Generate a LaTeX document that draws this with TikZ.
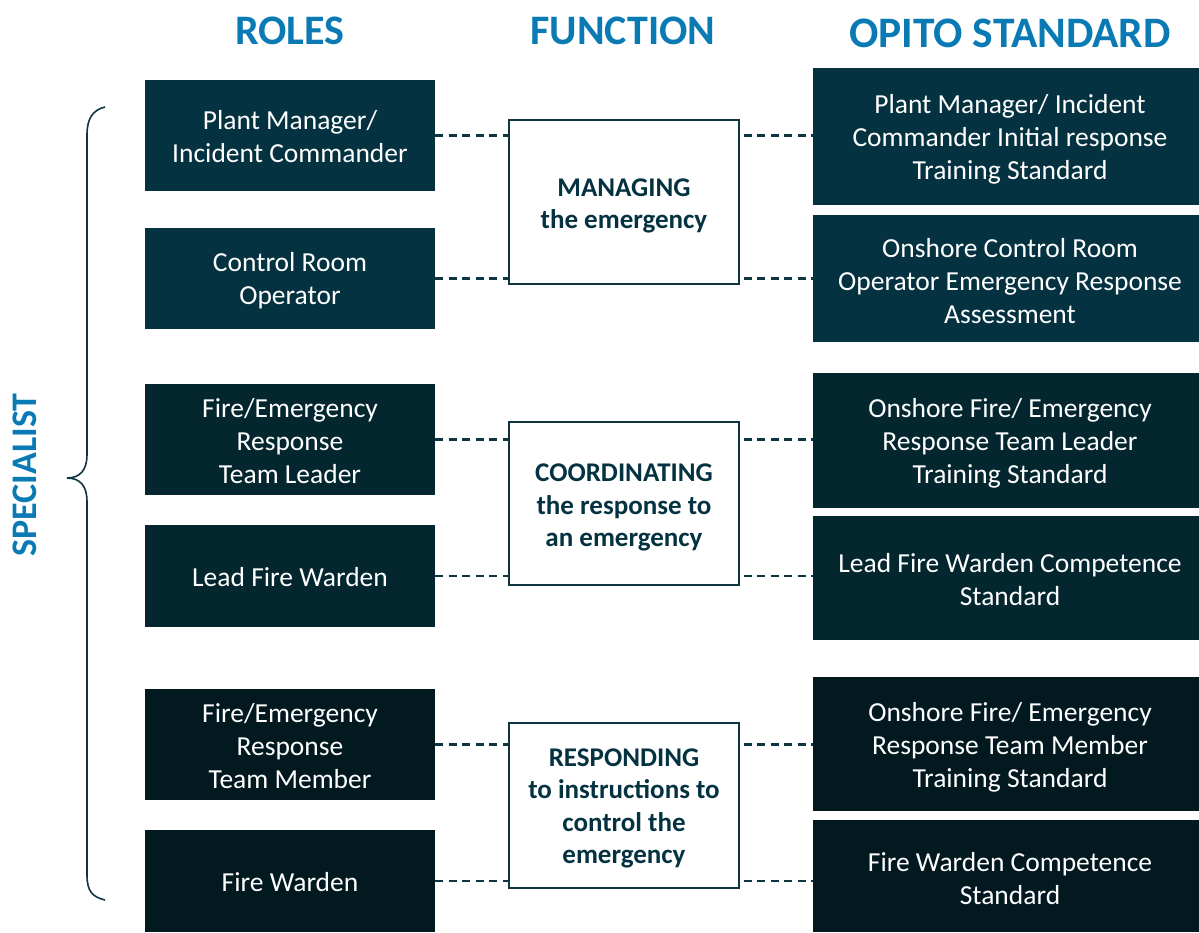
\documentclass[tikz,border=0pt]{standalone}
\usepackage{fontspec}
\setmainfont{Carlito}
\definecolor{topc}{HTML}{043241}
\definecolor{midc}{HTML}{03262F}
\definecolor{botc}{HTML}{02191F}
\definecolor{headc}{HTML}{0A7AB5}
\definecolor{linec}{HTML}{0E3540}
\begin{document}
\begin{tikzpicture}[x=1pt,y=-1pt,
  rolebox/.style={fill=#1, draw=none, inner sep=0pt, minimum width=290pt},
  stdbox/.style={fill=#1, draw=none, inner sep=0pt, minimum width=386pt},
  boxtext/.style={text=white, inner sep=0pt, align=center, font=\fontsize{27.5}{33}\selectfont},
  funcbox/.style={fill=white, draw=linec, line width=1.2pt, inner sep=0pt, minimum width=230pt},
  functext/.style={text=topc, inner sep=0pt, align=center, font=\bfseries\fontsize{27}{32.5}\selectfont},
  head/.style={text=headc, font=\bfseries\fontsize{42}{46}\selectfont, inner sep=0pt},
  link/.style={draw=linec, line width=2.2pt, dash pattern=on 8pt off 5.5pt}
]
\useasboundingbox (0,0) rectangle (1199,932);

\node[head] (h1) at (290,31) {ROLES};
\node[head] (h2) at (623,31) {FUNCTION};
\node[head, font=\bfseries\fontsize{43.5}{46}\selectfont] (h3) at (1010,33) {OPITO STANDARD};

\node[head, font=\bfseries\fontsize{36}{40}\selectfont, rotate=90] (sp) at (25,475) {SPECIALIST};

\draw[draw=linec, line width=1.6pt] (105,107) .. controls (93,110) and (87,118) .. (87,135) -- (87,455)
  .. controls (87,470) and (80,478) .. (67,478) .. controls (80,478) and (87,486) .. (87,501)
  -- (87,875) .. controls (87,892) and (93,897) .. (105,900);

% Roles
\node[rolebox=topc, minimum height=111pt] (L1) at (290,135.5) {};
\node[rolebox=topc, minimum height=101pt] (L2) at (290,278.5) {};
\node[rolebox=midc, minimum height=111pt] (L3) at (290,439.5) {};
\node[rolebox=midc, minimum height=102pt] (L4) at (290,576) {};
\node[rolebox=botc, minimum height=111pt] (L5) at (290,744.5) {};
\node[rolebox=botc, minimum height=102pt] (L6) at (290,881) {};
\node[boxtext] (L1t) at ([yshift=-1.5pt]L1.center) {Plant Manager/\\Incident Commander};
\node[boxtext] (L2t) at ([yshift=-2pt]L2.center) {Control Room\\Operator};
\node[boxtext] (L3t) at ([yshift=-1.5pt]L3.center) {Fire/Emergency\\Response\\Team Leader};
\node[boxtext] (L4t) at ([yshift=-1.5pt]L4.center) {Lead Fire Warden};
\node[boxtext] (L5t) at ([yshift=-1.5pt]L5.center) {Fire/Emergency\\Response\\Team Member};
\node[boxtext] (L6t) at ([yshift=-1.5pt]L6.center) {Fire Warden};

% Standards
\node[stdbox=topc, minimum height=137pt] (R1) at (1006,136.5) {};
\node[stdbox=topc, minimum height=127pt] (R2) at (1006,278.5) {};
\node[stdbox=midc, minimum height=135pt] (R3) at (1006,440.5) {};
\node[stdbox=midc, minimum height=124pt] (R4) at (1006,578) {};
\node[stdbox=botc, minimum height=134pt] (R5) at (1006,744) {};
\node[stdbox=botc, minimum height=112pt] (R6) at (1006,876) {};
\node[boxtext] (R1t) at ([xshift=4pt,yshift=-3pt]R1.center) {Plant Manager/ Incident\\Commander Initial response\\Training Standard};
\node[boxtext] (R2t) at ([xshift=4pt,yshift=-3pt]R2.center) {Onshore Control Room\\Operator Emergency Response\\Assessment};
\node[boxtext] (R3t) at ([xshift=4pt,yshift=-3pt]R3.center) {Onshore Fire/ Emergency\\Response Team Leader\\Training Standard};
\node[boxtext] (R4t) at ([xshift=4pt,yshift=-2pt]R4.center) {Lead Fire Warden Competence\\Standard};
\node[boxtext] (R5t) at ([xshift=4pt,yshift=-3pt]R5.center) {Onshore Fire/ Emergency\\Response Team Member\\Training Standard};
\node[boxtext] (R6t) at ([xshift=4pt,yshift=-3pt]R6.center) {Fire Warden Competence\\Standard};

% Functions
\node[funcbox, minimum height=164pt] (M1) at (624,202) {};
\node[funcbox, minimum height=163pt] (M2) at (624,503.5) {};
\node[funcbox, minimum height=165pt] (M3) at (624,805.5) {};
\node[functext] (M1t) at ([yshift=-4pt]M1.center) {MANAGING\\the emergency};
\node[functext] (M2t) at ([yshift=-4pt]M2.center) {COORDINATING\\the response to\\an emergency};
\node[functext] (M3t) at ([yshift=-3pt]M3.center) {RESPONDING\\to instructions to\\control the\\emergency};

% Links
\foreach \l/\m/\r in {L1/M1/R1, L2/M1/R2, L3/M2/R3, L4/M2/R4, L5/M3/R5, L6/M3/R6}{
  \draw[link] (\l.east) -- (\l.east -| \m.west);
  \draw[link] ([xshift=4pt]\l.east -| \m.east) -- (\l.east -| \r.west);
}
\end{tikzpicture}
\end{document}
